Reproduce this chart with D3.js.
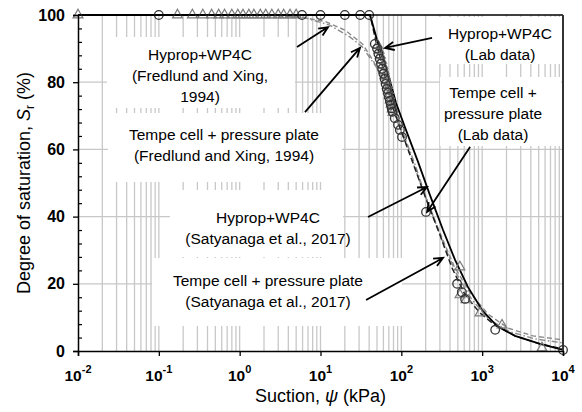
<!DOCTYPE html>
<html><head><meta charset="utf-8">
<script src="https://cdn.jsdelivr.net/npm/d3@7"></script>
<style>
body{margin:0;background:#fff}
text{font-family:"Liberation Sans",Arial,Helvetica,sans-serif;fill:#000}
</style>
</head><body>
<svg id="c" width="582" height="412"></svg>
<script>
// ---------------- DATA ----------------
// Lab data: Hyprop + WP4C (circles)
const hypropSuction = [0.1, 5.9, 10, 20, 31, 40, 47, 50, 52, 54, 56, 58, 60, 62, 64, 66, 68, 70, 72, 74, 76, 78, 83, 91, 96, 102, 202, 490, 560, 615, 1450, 10000];
const hypropSr      = [100, 100, 100, 100, 100, 100, 91.4, 90, 88.5, 87, 85.5, 84, 82.5, 81, 79.5, 78, 76.8, 75.6, 74.4, 73.3, 72.2, 71.2, 69.3, 67.3, 65.8, 63.7, 41.4, 20, 17.5, 15.5, 6.3, 0.3];
// Lab data: Tempe cell + pressure plate (triangles)
const tempeSuction = [0.01, 0.17, 0.26, 0.35, 0.45, 0.55, 0.65, 0.8, 0.95, 1.1, 1.3, 1.5, 1.8, 2.1, 2.5, 3, 3.5, 4.2, 5, 51, 53, 55, 57, 59, 61, 63, 65, 67, 69, 71, 73, 75, 77, 79, 530, 532, 631, 940, 1760, 5500];
const tempeSr      = [100, 100, 100, 100, 100, 100, 100, 100, 100, 100, 100, 100, 100, 100, 100, 100, 100, 100, 100, 91, 89.5, 88, 86.5, 85, 83.5, 82, 80.5, 79, 77.5, 76, 74.7, 73.4, 72, 71, 25, 16.7, 15.2, 11.3, 7.7, 0.9];
// Fit: Satyanaga et al. (2017), Hyprop+WP4C (solid black)
const satHypSuction = [0.01, 1, 10, 30, 41, 50, 66.5, 86, 114, 161, 226, 328, 462, 668, 996, 1527, 2548, 5196, 10000];
const satHypSr      = [100, 100, 100, 100, 100, 92.6, 83.6, 73.8, 65.8, 56.3, 46.4, 36.0, 27.1, 19.0, 12.2, 7.4, 4.5, 2.1, 0.3];
// Fit: Satyanaga et al. (2017), Tempe cell + pressure plate (dashed black)
const satTemSuction = [0.01, 1, 10, 30, 41, 48.6, 61.1, 76.8, 96.4, 135.6, 196, 301, 424, 614, 940, 1442, 2548, 5196, 10000];
const satTemSr      = [100, 100, 100, 100, 100, 92.0, 83.0, 73.2, 66.4, 56.8, 46.1, 34.5, 24.7, 16.7, 11.3, 7.7, 4.5, 2.1, 0.6];
// Fit: Fredlund and Xing (1994), Hyprop+WP4C (grey dash-dot)
const fxHypSuction = [0.01, 1.79, 5.6, 7.9, 13, 23, 33, 41, 54.5, 72.4, 102, 148, 214, 319, 475, 748, 1250, 2213, 4508, 10000];
const fxHypSr      = [100, 99.9, 99.7, 98.5, 97, 93.5, 90.5, 87.2, 83, 75.3, 65.8, 55.4, 44, 33, 23.2, 15.2, 9.2, 5.7, 3.6, 2.4];
// Fit: Fredlund and Xing (1994), Tempe cell + pressure plate (grey dashed)
const fxTemSuction = [0.01, 2.37, 5.5, 11.4, 20.1, 33, 45.9, 64.7, 88.5, 128, 196, 301, 449, 708, 1180, 2090, 4256, 10000];
const fxTemSr      = [100, 99.9, 99.4, 98.1, 95.5, 91.4, 86, 78.3, 68.8, 58.3, 46.4, 35.1, 25.3, 17.3, 11, 6.8, 4.5, 3.3];

// Axis ticks
const xMajorTicks = [1e-2, 1e-1, 1e0, 1e1, 1e2, 1e3, 1e4];
const xTickExp    = ["-2", "-1", "0", "1", "2", "3", "4"];
const yMajorTicks = [0, 20, 40, 60, 80, 100];

// Annotations (text lines)
const labelLines = [
  ["Hyprop+WP4C", "(Fredlund and Xing,", "1994)"],
  ["Tempe cell + pressure plate", "(Fredlund and Xing, 1994)"],
  ["Hyprop+WP4C", "(Satyanaga et al., 2017)"],
  ["Tempe cell + pressure plate", "(Satyanaga et al., 2017)"],
  ["Hyprop+WP4C", "(Lab data)"],
  ["Tempe cell +", "pressure plate", "(Lab data)"]
];
// Arrow endpoints in data units
const arrowFromS = [5.12, 6.43, 240, 708, 38.7, 36.6];
const arrowFromSr = [90.5, 71.1, 93.2, 60.7, 39.9, 15.2];
const arrowToS = [12.4, 30.8, 62.8, 208, 208, 328];
const arrowToSr = [96.4, 90.2, 90.2, 41.4, 48.8, 27.7];

// ---------------- LAYOUT ----------------
const L = 78, R = 563, T = 15, B = 351;
const boxes = [
  {x0:107, y0:37, x1:295, y1:108, cx:200, ty:60},
  {x0:108, y0:113, x1:342, y1:182, cx:224, ty:140},
  {x0:170, y0:190, x1:343, y1:257, cx:268, ty:223},
  {x0:152, y0:258, x1:402, y1:326, cx:268, ty:286},
  {x0:433, y0:17, x1:561, y1:64, cx:500, ty:39},
  {x0:440, y0:77, x1:561, y1:146, cx:493, ty:98}
];
const lineH = 21;

const svg = d3.select("#c");
const x = d3.scaleLog().domain([1e-2, 1e4]).range([L, R]);
const y = d3.scaleLinear().domain([0, 100]).range([B, T]);

// grid
const gridX = [];
for (let k = -2; k < 4; k++) for (let i = 1; i < 10; i++) gridX.push(i * Math.pow(10, k));
const grid = svg.append("g").attr("stroke", "#c8c8c8").attr("stroke-width", 1.3);
grid.selectAll("line.v").data(gridX.filter(d => d > 1.0001e-2)).join("line")
  .attr("x1", d => x(d)).attr("x2", d => x(d)).attr("y1", T).attr("y2", B);
grid.selectAll("line.h").data([20, 40, 60, 80]).join("line")
  .attr("x1", L).attr("x2", R).attr("y1", d => y(d)).attr("y2", d => y(d));

// white boxes
svg.append("g").selectAll("rect").data(boxes).join("rect")
  .attr("x", d => d.x0).attr("y", d => d.y0)
  .attr("width", d => d.x1 - d.x0).attr("height", d => d.y1 - d.y0)
  .attr("fill", "#fff");

// curves
const line = d3.line().x(d => x(d[0])).y(d => y(d[1]));
const zip = (a, b) => a.map((v, i) => [v, b[i]]);
const curves = [
  {d: zip(fxTemSuction, fxTemSr), stroke: "#8a8a8a", w: 1.4, dash: "5,3"},
  {d: zip(fxHypSuction, fxHypSr), stroke: "#8a8a8a", w: 1.4, dash: "6,2.5,1.5,2.5"},
  {d: zip(satTemSuction, satTemSr), stroke: "#222", w: 1.5, dash: "6,3"},
  {d: zip(satHypSuction, satHypSr), stroke: "#000", w: 1.8, dash: null}
];
svg.append("g").selectAll("path").data(curves).join("path")
  .attr("d", d => line(d.d)).attr("fill", "none")
  .attr("stroke", d => d.stroke).attr("stroke-width", d => d.w)
  .attr("stroke-dasharray", d => d.dash);

// markers
svg.append("g").selectAll("path").data(zip(tempeSuction, tempeSr)).join("path")
  .attr("d", d3.symbol(d3.symbolTriangle, 42))
  .attr("transform", d => `translate(${x(d[0])},${y(d[1])})`)
  .attr("fill", "none").attr("stroke", "#7a7a7a").attr("stroke-width", 1.2);
svg.append("g").selectAll("circle").data(zip(hypropSuction, hypropSr)).join("circle")
  .attr("cx", d => x(d[0])).attr("cy", d => y(d[1])).attr("r", 4.3)
  .attr("fill", "none").attr("stroke", "#333").attr("stroke-width", 1.3);

// axes
const xAxis = d3.axisBottom(x).tickValues(xMajorTicks).tickSize(5).tickFormat("");
const gx = svg.append("g").attr("transform", `translate(0,${B})`).call(xAxis);
gx.select(".domain").attr("stroke", "#000").attr("stroke-width", 1.5);
gx.selectAll(".tick line").attr("stroke", "#000").attr("stroke-width", 1.3);
const xl = svg.append("g").selectAll("text").data(xMajorTicks).join("text")
  .attr("x", d => x(d)).attr("y", 381).attr("text-anchor", "middle")
  .attr("font-size", 15.5).attr("font-weight", "bold");
xl.append("tspan").text("10");
xl.append("tspan").attr("dy", -8).attr("font-size", 11).text((d, i) => xTickExp[i]);

const yAxis = d3.axisLeft(y).tickValues(yMajorTicks).tickSize(5).tickPadding(8);
const gy = svg.append("g").attr("transform", `translate(${L},0)`).call(yAxis);
gy.select(".domain").attr("stroke", "#000").attr("stroke-width", 1.5);
gy.selectAll(".tick line").attr("stroke", "#000").attr("stroke-width", 1.3);
gy.selectAll(".tick text").attr("font-size", 16).attr("font-weight", "bold")
  .attr("font-family", '"Liberation Sans",Arial,sans-serif');
const yMinor = d3.range(0, 101, 4).filter(v => v % 20 !== 0);
const yMinorAxis = d3.axisRight(y).tickValues(yMinor).tickSize(4).tickFormat("");
const gym = svg.append("g").attr("transform", `translate(${L},0)`).call(yMinorAxis);
gym.select(".domain").remove();
gym.selectAll(".tick line").attr("stroke", "#000").attr("stroke-width", 1.2);

// top & right border
svg.append("line").attr("x1", L).attr("x2", R).attr("y1", T).attr("y2", T)
  .attr("stroke", "#000").attr("stroke-width", 1.3);
svg.append("line").attr("x1", R).attr("x2", R).attr("y1", T).attr("y2", B)
  .attr("stroke", "#333").attr("stroke-width", 2);

// arrows
const arrows = arrowFromS.map((v, i) => ({x1: x(v), y1: y(arrowFromSr[i]), x2: x(arrowToS[i]), y2: y(arrowToSr[i])}));
const ag = svg.append("g").attr("stroke", "#000").attr("stroke-width", 1.8).attr("fill", "none");
arrows.forEach(a => {
  const ang = Math.atan2(a.y2 - a.y1, a.x2 - a.x1);
  const hl = 10, ha = 0.42;
  const p1 = [a.x2 - hl * Math.cos(ang - ha), a.y2 - hl * Math.sin(ang - ha)];
  const p2 = [a.x2 - hl * Math.cos(ang + ha), a.y2 - hl * Math.sin(ang + ha)];
  ag.append("path").attr("d", `M${a.x1},${a.y1}L${a.x2},${a.y2}M${p1[0]},${p1[1]}L${a.x2},${a.y2}L${p2[0]},${p2[1]}`);
});

// label texts
boxes.forEach((b, i) => {
  svg.append("g").selectAll("text").data(labelLines[i]).join("text")
    .attr("x", b.cx).attr("y", (d, j) => b.ty + j * lineH)
    .attr("text-anchor", "middle").attr("font-size", 15.5).text(d => d);
});

// axis titles
const xt = svg.append("text").attr("x", (L + R) / 2).attr("y", 402).attr("text-anchor", "middle").attr("font-size", 18);
xt.append("tspan").text("Suction, ");
xt.append("tspan").attr("font-style", "italic").text("ψ");
xt.append("tspan").text(" (kPa)");

const yt = svg.append("text").attr("transform", `translate(30,${(T + B) / 2}) rotate(-90)`)
  .attr("text-anchor", "middle").attr("font-size", 18);
yt.append("tspan").text("Degree of saturation, ");
yt.append("tspan").attr("font-style", "italic").text("S");
yt.append("tspan").attr("font-size", 12).attr("dy", 4).text("r");
yt.append("tspan").attr("dy", -4).text(" (%)");
</script>
</body></html>
